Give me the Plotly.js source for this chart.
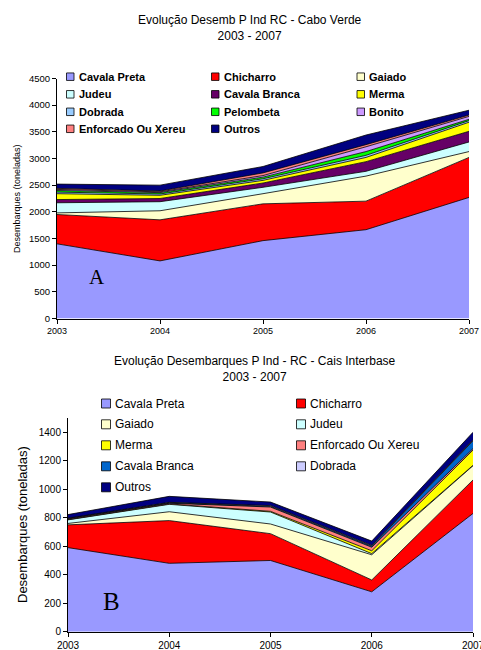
<!DOCTYPE html>
<html><head><meta charset="utf-8">
<script src="https://cdn.plot.ly/plotly-3.0.1.min.js"></script>
<style>html,body{margin:0;padding:0;background:#fff}#chart{width:481px;height:650px}</style>
</head><body><div id="chart"></div>
<script>
// ---------- Data: Chart A (Cabo Verde) ----------
const yearsA = [2003, 2004, 2005, 2006, 2007];
const namesA = ["Cavala Preta","Chicharro","Gaiado","Judeu","Cavala Branca","Merma","Dobrada","Pelombeta","Bonito","Enforcado Ou Xereu","Outros"];
const colorsA = ["#9999FF","#FF0000","#FFFFCC","#CCFFFF","#660066","#FFFF00","#99CCFF","#00FF00","#CC99FF","#FF8080","#000080"];
const cavalaPretaA  = [1400, 1080, 1460, 1665, 2270];
const chicharroA    = [550, 770, 690, 535, 750];
const gaiadoA       = [30, 170, 190, 470, 110];
const judeuA        = [190, 170, 120, 90, 180];
const cavalaBrancaA = [60, 60, 80, 180, 200];
const mermaA        = [110, 60, 50, 80, 170];
const dobradaA      = [30, 25, 30, 40, 30];
const pelombetaA    = [30, 25, 30, 70, 25];
const bonitoA       = [20, 15, 30, 90, 55];
const enforcadoA    = [20, 15, 50, 40, 25];
const outrosA       = [80, 110, 120, 180, 90];
const seriesA = [cavalaPretaA, chicharroA, gaiadoA, judeuA, cavalaBrancaA, mermaA, dobradaA, pelombetaA, bonitoA, enforcadoA, outrosA];

// ---------- Data: Chart B (Cais Interbase) ----------
const yearsB = [2003, 2004, 2005, 2006, 2007];
const namesB = ["Cavala Preta","Chicharro","Gaiado","Judeu","Merma","Enforcado Ou Xereu","Cavala Branca","Dobrada","Outros"];
const colorsB = ["#9999FF","#FF0000","#FFFFCC","#CCFFFF","#FFFF00","#FF8080","#0066CC","#CCCCFF","#000080"];
const cavalaPretaB  = [590, 480, 500, 280, 830];
const chicharroB    = [160, 300, 188, 83, 235];
const gaiadoB       = [10, 62, 68, 177, 100];
const judeuB        = [25, 52, 84, 8, 3];
const mermaB        = [2, 3, 5, 20, 107];
const enforcadoB    = [5, 5, 30, 25, 10];
const cavalaBrancaB = [3, 3, 5, 8, 55];
const dobradaB      = [2, 3, 5, 5, 5];
const outrosB       = [25, 42, 25, 30, 55];
const seriesB = [cavalaPretaB, chicharroB, gaiadoB, judeuB, mermaB, enforcadoB, cavalaBrancaB, dobradaB, outrosB];

const titleA = "Evolução Desemb P Ind RC - Cabo Verde<br>2003 - 2007";
const titleB = "Evolução Desembarques P Ind - RC - Cais Interbase<br>2003 - 2007";
const yTitle = "Desembarques (toneladas)";

// ---------- Layout helpers ----------
const W = 481, H = 650;
const px = x => x / W;
const py = y => 1 - y / H;
const SANS = "Liberation Sans, Arial, sans-serif";
const SERIF = "Liberation Serif, Times New Roman, serif";

const traces = [];
seriesA.forEach((s, i) => traces.push({
  type: "scatter", mode: "lines", x: yearsA, y: s, name: namesA[i],
  stackgroup: "a", fillcolor: colorsA[i],
  line: {color: "#000", width: 0.8}, xaxis: "x", yaxis: "y",
  showlegend: false, hoverinfo: "name+y"
}));
seriesB.forEach((s, i) => traces.push({
  type: "scatter", mode: "lines", x: yearsB, y: s, name: namesB[i],
  stackgroup: "b", fillcolor: colorsB[i],
  line: {color: "#000", width: 0.8}, xaxis: "x2", yaxis: "y2",
  showlegend: false, hoverinfo: "name+y"
}));

const axisBase = {
  showline: true, linecolor: "#000", linewidth: 1, ticks: "outside", ticklen: 4,
  tickcolor: "#000", showgrid: false, zeroline: false, fixedrange: true,
  ticklabeloverflow: "allow"
};

const annotations = [];
const shapes = [];
// titles
annotations.push({text: titleA, xref: "paper", yref: "paper", x: px(250), y: py(28), xanchor: "center", yanchor: "middle", showarrow: false, font: {family: SANS, size: 12, color: "#000"}});
annotations.push({text: titleB, xref: "paper", yref: "paper", x: px(255), y: py(369), xanchor: "center", yanchor: "middle", showarrow: false, font: {family: SANS, size: 12, color: "#000"}});
// y titles
annotations.push({text: yTitle, xref: "paper", yref: "paper", x: px(17), y: py(199), textangle: -90, xanchor: "center", yanchor: "middle", showarrow: false, font: {family: SANS, size: 9, color: "#000"}});
annotations.push({text: yTitle, xref: "paper", yref: "paper", x: px(22), y: py(525), textangle: -90, xanchor: "center", yanchor: "middle", showarrow: false, font: {family: SANS, size: 13, color: "#000"}});
// panel letters
annotations.push({text: "A", xref: "paper", yref: "paper", x: px(97), y: py(277), xanchor: "center", yanchor: "middle", showarrow: false, font: {family: SERIF, size: 21, color: "#000"}});
annotations.push({text: "B", xref: "paper", yref: "paper", x: px(111), y: py(601), xanchor: "center", yanchor: "middle", showarrow: false, font: {family: SERIF, size: 25, color: "#000"}});

// legend A: 3 columns
const legAcolX = [66.5, 211.5, 357], legArowY = [76.7, 94.3, 111.8, 128.8], boxA = 7.5;
namesA.forEach((n, i) => {
  const c = i % 3, r = Math.floor(i / 3);
  const x0 = legAcolX[c], yc = legArowY[r];
  shapes.push({type: "rect", xref: "paper", yref: "paper", x0: px(x0), x1: px(x0 + boxA), y0: py(yc + boxA / 2), y1: py(yc - boxA / 2), fillcolor: colorsA[i], line: {color: "#000", width: 0.8}});
  annotations.push({text: "<b>" + n + "</b>", xref: "paper", yref: "paper", x: px(x0 + boxA + 2.5), y: py(yc), xanchor: "left", yanchor: "middle", showarrow: false, font: {family: SANS, size: 11, color: "#000"}});
});
// legend B: 2 columns
const legBcolX = [101.5, 296.5], legBrowY = [403.5, 424.3, 445.3, 466.3, 487.3], boxB = 9;
namesB.forEach((n, i) => {
  const c = i % 2, r = Math.floor(i / 2);
  const x0 = legBcolX[c], yc = legBrowY[r];
  shapes.push({type: "rect", xref: "paper", yref: "paper", x0: px(x0), x1: px(x0 + boxB), y0: py(yc + boxB / 2), y1: py(yc - boxB / 2), fillcolor: colorsB[i], line: {color: "#000", width: 0.8}});
  annotations.push({text: n, xref: "paper", yref: "paper", x: px(x0 + boxB + 2.5), y: py(yc), xanchor: "left", yanchor: "middle", showarrow: false, font: {family: SANS, size: 12, color: "#000"}});
});

const layout = {
  width: W, height: H, margin: {l: 0, r: 0, t: 0, b: 0},
  paper_bgcolor: "#fff", plot_bgcolor: "rgba(0,0,0,0)", showlegend: false,
  xaxis: Object.assign({}, axisBase, {domain: [px(57), px(469)], range: [2003, 2007], tickvals: yearsA, ticktext: yearsA.map(String), anchor: "y", tickfont: {family: SANS, size: 9, color: "#000"}}),
  yaxis: Object.assign({}, axisBase, {domain: [py(318.5), py(78.5)], range: [0, 4500], dtick: 500, anchor: "x", tickfont: {family: SANS, size: 9.5, color: "#000"}}),
  xaxis2: Object.assign({}, axisBase, {domain: [px(68), px(473)], range: [2003, 2007], tickvals: yearsB, ticktext: yearsB.map(String), anchor: "y2", tickfont: {family: SANS, size: 10, color: "#000"}}),
  yaxis2: Object.assign({}, axisBase, {domain: [py(631.7), py(418)], range: [0, 1500], dtick: 200, anchor: "x2", tickfont: {family: SANS, size: 10, color: "#000"}}),
  annotations: annotations, shapes: shapes
};

Plotly.newPlot("chart", traces, layout, {displayModeBar: false, staticPlot: true});
</script></body></html>
